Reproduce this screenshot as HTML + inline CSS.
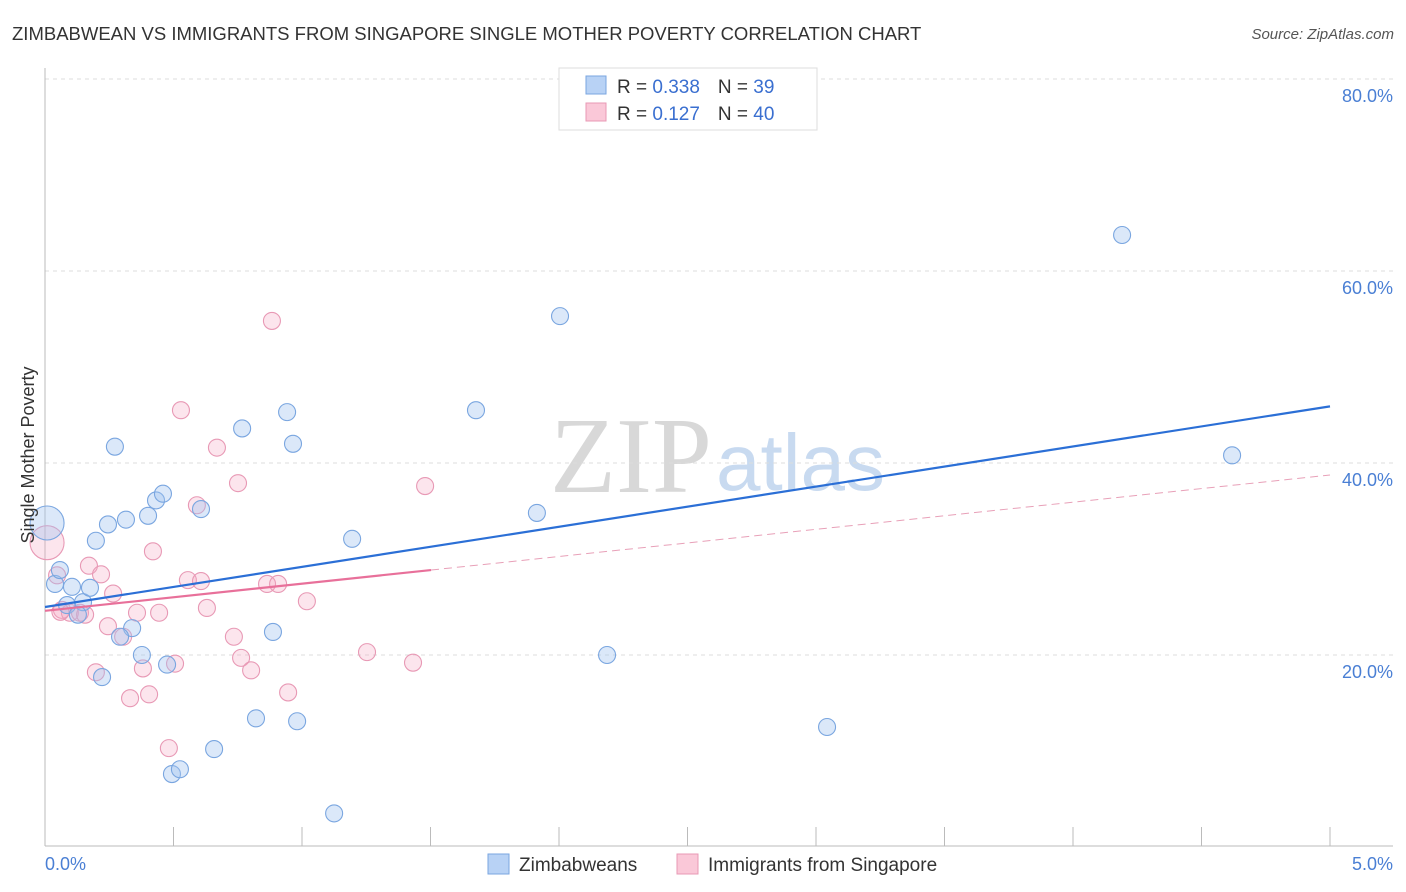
<!DOCTYPE html>
<html><head><meta charset="utf-8"><style>
body{margin:0;background:#fff;font-family:"Liberation Sans",sans-serif;}
svg{display:block}
</style></head><body>
<svg id="chart" width="1406" height="892">
<text x="12" y="40" font-size="18.5" fill="#333">ZIMBABWEAN VS IMMIGRANTS FROM SINGAPORE SINGLE MOTHER POVERTY CORRELATION CHART</text>
<text x="1394" y="39" font-size="15" fill="#555" font-style="italic" text-anchor="end">Source: ZipAtlas.com</text>
<text x="712" y="492" font-size="108" fill="#d8d8d8" font-family="Liberation Serif,serif" text-anchor="end">ZIP</text>
<text x="716" y="490" font-size="80" fill="#c8daf0">atlas</text>
<g id="grid"></g>
<g id="axes"></g>
<g id="marks"></g>
<text transform="translate(34,455) rotate(-90)" font-size="18" fill="#333" text-anchor="middle">Single Mother Poverty</text>
<text x="45" y="870" font-size="18" fill="#4a7fd4">0.0%</text>
<text x="1393" y="870" font-size="18" fill="#4a7fd4" text-anchor="end">5.0%</text>
<g>
<rect x="559" y="68" width="258" height="62" fill="#fff" stroke="#ddd"/>
<rect x="586" y="76" width="20" height="18" fill="#b8d2f5" stroke="#7aa6e0"/>
<rect x="586" y="103" width="20" height="18" fill="#fac8d8" stroke="#e899b5"/>
<text x="617" y="93" font-size="19" fill="#333">R = <tspan fill="#3a6fd0">0.338</tspan><tspan dx="18">N = </tspan><tspan fill="#3a6fd0"> 39</tspan></text>
<text x="617" y="120" font-size="19" fill="#333">R = <tspan fill="#3a6fd0"> 0.127</tspan><tspan dx="18">N = </tspan><tspan fill="#3a6fd0">40</tspan></text>
</g>
<g>
<rect x="488" y="854" width="21" height="20" fill="#b8d2f5" stroke="#7aa6e0"/>
<text x="519" y="871" font-size="19" fill="#333">Zimbabweans</text>
<rect x="677" y="854" width="21" height="20" fill="#fac8d8" stroke="#e899b5"/>
<text x="708" y="871" font-size="19" fill="#333">Immigrants from Singapore</text>
</g>
</svg>
<script>
const blueX=[0.008,0.039,0.058,0.105,0.086,0.148,0.128,0.175,0.198,0.222,0.245,0.272,0.315,0.339,0.292,0.377,0.401,0.432,0.459,0.475,0.494,0.525,0.607,0.658,0.767,0.821,0.887,0.942,0.965,0.981,1.125,1.195,1.677,1.914,2.004,2.187,3.043,4.191,4.619];
const blueY=[33.75,27.4,28.85,27.1,25.2,25.5,24.2,27.0,31.9,17.7,33.6,41.7,34.1,22.8,21.9,20.0,34.5,36.1,36.8,19.0,7.6,8.1,35.2,10.2,43.6,13.4,22.4,45.3,42.0,13.1,3.5,32.1,45.5,34.8,55.3,20.0,12.5,63.75,40.8];
const pinkX=[0.008,0.047,0.066,0.097,0.136,0.156,0.171,0.198,0.218,0.245,0.265,0.304,0.331,0.358,0.381,0.405,0.420,0.444,0.482,0.506,0.529,0.556,0.591,0.607,0.630,0.669,0.735,0.751,0.763,0.802,0.864,0.883,0.907,0.946,1.019,1.253,1.432,1.479,0.060];
const pinkY=[31.7,28.3,24.7,24.4,24.4,24.2,29.3,18.2,28.4,23.0,26.4,21.9,15.5,24.4,18.6,15.9,30.8,24.4,10.3,19.1,45.5,27.8,35.6,27.7,24.9,41.6,21.9,37.9,19.7,18.4,27.4,54.8,27.4,16.1,25.6,20.3,19.2,37.6,24.5];
const blueTrend=[25.0,45.9];
const pinkTrend=[24.6,38.75];
const pinkSolidEnd=1.502;
const yTicks=[20,40,60,80];
const xTicks=[0,0.5,1,1.5,2,2.5,3,3.5,4,4.5,5];
const NS='http://www.w3.org/2000/svg';
const sx=v=>45+v*257, sy=v=>847-v*9.6;
function mk(tag,attrs,parent){const e=document.createElementNS(NS,tag);for(const k in attrs)e.setAttribute(k,attrs[k]);document.getElementById(parent).appendChild(e);return e;}
yTicks.forEach(t=>{
 const l=mk('line',{x1:45,x2:1393,y1:sy(t),y2:sy(t),stroke:'#ddd','stroke-dasharray':'4,4'},'grid');
 
 
 const tx=mk('text',{x:1393,y:sy(t)+23,'font-size':18,fill:'#4a7fd4','text-anchor':'end'},'grid');
 tx.textContent=t.toFixed(1)+'%';
 
 
});
let a=mk('line',{x1:45,x2:45,y1:68,y2:846,stroke:'#bbb'},'axes');


a=mk('line',{x1:45,x2:1393,y1:846,y2:846,stroke:'#bbb'},'axes');


xTicks.forEach(t=>{
 const l=mk('line',{x1:sx(t),x2:sx(t),y1:827,y2:846,stroke:'#bbb'},'axes');
 
 
});
function dots(X,Y,fill,stroke,name){
 X.forEach((x,i)=>{
  const r=(i===0)?17:8.5;
  const c=mk('circle',{cx:sx(x),cy:sy(Y[i]),r:r,fill:fill,stroke:stroke,'stroke-width':1.1},'marks');
  
  
 });
}
dots(pinkX,pinkY,'rgba(245,170,195,0.3)','#e899b5','singapore-point');
dots(blueX,blueY,'rgba(160,195,240,0.38)','#7aa6e0','zimbabwean-point');
let t=mk('line',{x1:sx(0),y1:sy(blueTrend[0]),x2:sx(5),y2:sy(blueTrend[1]),stroke:'#2b6fd6','stroke-width':2.2},'marks');


const pm=pinkTrend[0]+(pinkTrend[1]-pinkTrend[0])*pinkSolidEnd/5;
t=mk('line',{x1:sx(0),y1:sy(pinkTrend[0]),x2:sx(pinkSolidEnd),y2:sy(pm),stroke:'#e8709a','stroke-width':2.2},'marks');


t=mk('line',{x1:sx(pinkSolidEnd),y1:sy(pm),x2:sx(5),y2:sy(pinkTrend[1]),stroke:'#e8a0b8','stroke-width':1,'stroke-dasharray':'8,5'},'marks');


</script>
</body></html>
